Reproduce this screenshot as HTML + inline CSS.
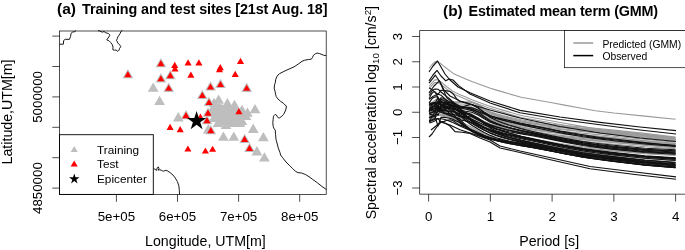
<!DOCTYPE html>
<html><head><meta charset="utf-8"><style>
html,body{margin:0;padding:0;background:#fff;width:685px;height:250px;overflow:hidden}
svg{display:block;will-change:transform}
text{font-family:"Liberation Sans", sans-serif;fill:#000}
</style></head><body>
<svg xmlns="http://www.w3.org/2000/svg" width="685" height="250" viewBox="0 0 685 250">
<rect width="685" height="250" fill="#fff"/>
<g>
<polyline fill="none" stroke="#000" stroke-width="0.9" stroke-linejoin="round"  points="59.5,44.2 63.4,44.2 63.6,40.6 65.2,39.3 69.4,39.4 70.6,36.4 71.0,33.4 72.4,32.2 74.8,31.6 76.0,30.5"/>
<polyline fill="none" stroke="#000" stroke-width="0.9" stroke-linejoin="round"  points="98.0,30.5 99.8,31.0 102.2,32.2 104.0,31.5 105.8,32.8 108.2,33.4 110.0,35.2 108.8,37.0 107.0,39.4 106.8,40.0 108.8,40.6 110.6,42.4 112.4,44.8 113.0,47.2 112.8,49.6 114.2,50.2 116.0,50.0 117.8,51.4 119.0,50.2 119.6,48.4 120.8,46.6 119.6,44.8 117.8,43.0 117.2,41.2 116.4,40.6 117.2,38.8 117.8,37.0 119.0,35.2 120.2,33.4 120.8,31.6 122.4,30.5"/>
<polyline fill="none" stroke="#000" stroke-width="0.9" stroke-linejoin="round"  points="326.2,55.7 323.6,55.2 319.6,53.6 317.2,53.1 315.6,53.6 313.5,55.2 312.4,57.6 311.3,59.2 308.4,59.5 304.4,60.3 302.0,61.3 298.8,63.7 294.0,66.9 286.0,70.4 279.6,73.6 278.0,75.0 276.8,76.8 275.6,79.8 275.4,82.2 274.6,84.6 274.2,88.2 275.0,91.2 275.6,94.2 276.2,96.6 278.0,99.0 280.6,101.4 283.6,103.4 284.8,104.8 286.4,106.0 286.0,109.0 284.8,112.0 283.6,114.4 281.8,116.2 279.4,118.0 278.2,117.8 277.0,116.2 276.4,115.0 275.2,114.4 274.0,115.6 273.4,116.8 273.2,119.2 272.8,122.8 273.2,126.4 274.0,128.8 275.2,129.8 275.6,134.6 276.0,139.4 277.0,143.0 278.2,147.8 280.0,152.6 280.6,155.0 282.4,157.4 286.0,162.0 289.7,165.7 292.5,168.4 295.3,171.2 298.0,172.7 301.7,173.0 305.4,174.5 309.0,176.7 312.8,179.5 317.4,182.8 322.0,186.5 326.2,189.4"/>
<polyline fill="none" stroke="#000" stroke-width="0.9" stroke-linejoin="round"  points="153.6,168.4 155.1,169.4 156.5,170.4 157.2,167.9 158.3,166.9 159.0,168.6 158.0,170.1 159.4,169.8 161.1,170.1 162.3,170.8 163.7,171.2 165.2,170.4 167.3,170.8 170.2,172.7 173.1,175.1 175.3,178.0 177.4,181.6 178.9,185.9 179.3,190.3 179.6,194.4"/>
</g>
<g>
<polygon fill="#bebebe" points="214,108 219,103 223,106 228,106 231,108 235,108 241,111 246,113 249,116 244,120 245,125 221,125 218,120 212,112"/>
<polygon fill="#bebebe" points="153.20,82.40 158.57,91.70 147.83,91.70"/>
<polygon fill="#bebebe" points="159.60,95.80 164.97,105.10 154.23,105.10"/>
<polygon fill="#bebebe" points="178.30,112.10 183.67,121.40 172.93,121.40"/>
<polygon fill="#bebebe" points="255.00,103.90 260.37,113.20 249.63,113.20"/>
<polygon fill="#bebebe" points="247.40,107.50 252.77,116.80 242.03,116.80"/>
<polygon fill="#bebebe" points="223.40,131.40 228.77,140.70 218.03,140.70"/>
<polygon fill="#bebebe" points="233.80,131.40 239.17,140.70 228.43,140.70"/>
<polygon fill="#bebebe" points="253.20,123.60 258.57,132.90 247.83,132.90"/>
<polygon fill="#bebebe" points="263.40,132.00 268.77,141.30 258.03,141.30"/>
<polygon fill="#bebebe" points="256.90,146.10 262.27,155.40 251.53,155.40"/>
<polygon fill="#bebebe" points="264.40,152.20 269.77,161.50 259.03,161.50"/>
<polygon fill="#bebebe" points="218.60,94.40 223.97,103.70 213.23,103.70"/>
<polygon fill="#bebebe" points="227.40,97.90 232.77,107.20 222.03,107.20"/>
<polygon fill="#bebebe" points="234.50,99.70 239.87,109.00 229.13,109.00"/>
<polygon fill="#bebebe" points="215.00,100.80 220.37,110.10 209.63,110.10"/>
<polygon fill="#bebebe" points="222.00,103.80 227.37,113.10 216.63,113.10"/>
<polygon fill="#bebebe" points="229.00,104.80 234.37,114.10 223.63,114.10"/>
<polygon fill="#bebebe" points="236.00,104.80 241.37,114.10 230.63,114.10"/>
<polygon fill="#bebebe" points="242.00,104.80 247.37,114.10 236.63,114.10"/>
<polygon fill="#bebebe" points="219.00,106.80 224.37,116.10 213.63,116.10"/>
<polygon fill="#bebebe" points="226.00,108.80 231.37,118.10 220.63,118.10"/>
<polygon fill="#bebebe" points="233.00,109.80 238.37,119.10 227.63,119.10"/>
<polygon fill="#bebebe" points="240.00,110.80 245.37,120.10 234.63,120.10"/>
<polygon fill="#bebebe" points="246.00,110.80 251.37,120.10 240.63,120.10"/>
<polygon fill="#bebebe" points="214.00,112.80 219.37,122.10 208.63,122.10"/>
<polygon fill="#bebebe" points="221.00,114.80 226.37,124.10 215.63,124.10"/>
<polygon fill="#bebebe" points="228.00,114.80 233.37,124.10 222.63,124.10"/>
<polygon fill="#bebebe" points="235.00,114.80 240.37,124.10 229.63,124.10"/>
<polygon fill="#bebebe" points="242.00,115.80 247.37,125.10 236.63,125.10"/>
<polygon fill="#bebebe" points="218.00,117.80 223.37,127.10 212.63,127.10"/>
<polygon fill="#bebebe" points="226.00,119.80 231.37,129.10 220.63,129.10"/>
<polygon fill="#bebebe" points="233.00,117.80 238.37,127.10 227.63,127.10"/>
<polygon fill="#bebebe" points="240.00,117.80 245.37,127.10 234.63,127.10"/>
<polygon fill="#bebebe" points="212.00,104.80 217.37,114.10 206.63,114.10"/>
<polygon fill="#bebebe" points="214.00,97.80 219.37,107.10 208.63,107.10"/>
<polygon fill="#bebebe" points="214.00,105.80 219.37,115.10 208.63,115.10"/>
<polygon fill="#bebebe" points="208.30,124.10 213.67,133.40 202.93,133.40"/>
<polygon fill="#bebebe" points="218.00,109.80 223.37,119.10 212.63,119.10"/>
<polygon fill="#bebebe" points="127.90,68.90 133.27,78.20 122.53,78.20"/>
<polygon fill="#bebebe" points="160.90,58.00 166.27,67.30 155.53,67.30"/>
<polygon fill="#bebebe" points="160.90,73.10 166.27,82.40 155.53,82.40"/>
<polygon fill="#bebebe" points="170.30,70.00 175.67,79.30 164.93,79.30"/>
<polygon fill="#bebebe" points="168.70,82.60 174.07,91.90 163.33,91.90"/>
<polygon fill="#bebebe" points="220.50,78.80 225.87,88.10 215.13,88.10"/>
<polygon fill="#bebebe" points="210.50,81.30 215.87,90.60 205.13,90.60"/>
<polygon fill="#bebebe" points="246.70,82.60 252.07,91.90 241.33,91.90"/>
<polygon fill="#bebebe" points="202.30,89.80 207.67,99.10 196.93,99.10"/>
<polygon fill="#bebebe" points="186.00,109.90 191.37,119.20 180.63,119.20"/>
<polygon fill="#bebebe" points="244.60,133.70 249.97,143.00 239.23,143.00"/>
<polygon fill="#bebebe" points="249.50,142.70 254.87,152.00 244.13,152.00"/>
<polygon fill="#bebebe" points="209.00,96.80 214.37,106.10 203.63,106.10"/>
<polygon fill="#bebebe" points="208.00,107.40 213.37,116.70 202.63,116.70"/>
<polygon fill="#bebebe" points="207.00,115.00 212.37,124.30 201.63,124.30"/>
<polygon fill="#bebebe" points="210.80,125.00 216.17,134.30 205.43,134.30"/>
<polygon fill="#ff0000" points="127.90,71.00 131.45,77.15 124.35,77.15"/>
<polygon fill="#ff0000" points="160.90,60.10 164.45,66.25 157.35,66.25"/>
<polygon fill="#ff0000" points="160.90,75.20 164.45,81.35 157.35,81.35"/>
<polygon fill="#ff0000" points="170.30,72.10 173.85,78.25 166.75,78.25"/>
<polygon fill="#ff0000" points="168.70,84.70 172.25,90.85 165.15,90.85"/>
<polygon fill="#ff0000" points="220.50,80.90 224.05,87.05 216.95,87.05"/>
<polygon fill="#ff0000" points="210.50,83.40 214.05,89.55 206.95,89.55"/>
<polygon fill="#ff0000" points="246.70,84.70 250.25,90.85 243.15,90.85"/>
<polygon fill="#ff0000" points="202.30,91.90 205.85,98.05 198.75,98.05"/>
<polygon fill="#ff0000" points="186.00,112.00 189.55,118.15 182.45,118.15"/>
<polygon fill="#ff0000" points="244.60,135.80 248.15,141.95 241.05,141.95"/>
<polygon fill="#ff0000" points="249.50,144.80 253.05,150.95 245.95,150.95"/>
<polygon fill="#ff0000" points="209.00,98.90 212.55,105.05 205.45,105.05"/>
<polygon fill="#ff0000" points="208.00,109.50 211.55,115.65 204.45,115.65"/>
<polygon fill="#ff0000" points="207.00,117.10 210.55,123.25 203.45,123.25"/>
<polygon fill="#ff0000" points="210.80,127.10 214.35,133.25 207.25,133.25"/>
<polygon fill="#ff0000" points="188.10,59.30 191.65,65.45 184.55,65.45"/>
<polygon fill="#ff0000" points="198.90,59.30 202.45,65.45 195.35,65.45"/>
<polygon fill="#ff0000" points="190.90,71.60 194.45,77.75 187.35,77.75"/>
<polygon fill="#ff0000" points="174.70,61.80 178.25,67.95 171.15,67.95"/>
<polygon fill="#ff0000" points="175.00,65.30 178.55,71.45 171.45,71.45"/>
<polygon fill="#ff0000" points="220.30,64.00 223.85,70.15 216.75,70.15"/>
<polygon fill="#ff0000" points="219.50,66.20 223.05,72.35 215.95,72.35"/>
<polygon fill="#ff0000" points="240.50,57.80 244.05,63.95 236.95,63.95"/>
<polygon fill="#ff0000" points="235.20,70.80 238.75,76.95 231.65,76.95"/>
<polygon fill="#ff0000" points="170.10,123.80 173.65,129.95 166.55,129.95"/>
<polygon fill="#ff0000" points="180.20,126.00 183.75,132.15 176.65,132.15"/>
<polygon fill="#ff0000" points="187.90,145.40 191.45,151.55 184.35,151.55"/>
<polygon fill="#ff0000" points="205.40,147.40 208.95,153.55 201.85,153.55"/>
<polygon fill="#ff0000" points="212.60,145.70 216.15,151.85 209.05,151.85"/>
<polygon fill="#ff0000" points="200.40,113.50 203.95,119.65 196.85,119.65"/>
<polygon fill="#ff0000" points="238.90,108.00 242.45,114.15 235.35,114.15"/>
</g>
<polygon fill="#000" points="196.60,110.90 198.87,117.88 206.21,117.88 200.27,122.19 202.54,129.17 196.60,124.86 190.66,129.17 192.93,122.19 186.99,117.88 194.33,117.88"/>
<rect x="59.5" y="134.7" width="93.8" height="59.7" fill="#fff" stroke="#000" stroke-width="0.9"/>
<polygon fill="#bebebe" points="74.20,145.90 77.75,152.05 70.65,152.05"/>
<polygon fill="#ff0000" points="74.20,160.40 77.75,166.55 70.65,166.55"/>
<polygon fill="#000" points="74.30,173.50 75.53,177.30 79.53,177.30 76.30,179.65 77.53,183.45 74.30,181.10 71.07,183.45 72.30,179.65 69.07,177.30 73.07,177.30"/>
<text x="97" y="153.8" font-size="11.8">Training</text>
<text x="97" y="168.3" font-size="11.8">Test</text>
<text x="97" y="182.8" font-size="11.8">Epicenter</text>
<rect x="59.6" y="31.0" width="266.6" height="163.5" fill="none" stroke="#000" stroke-width="0.7"/>
<line x1="52.3" y1="36.1" x2="59.6" y2="36.1" stroke="#000" stroke-width="0.7"/>
<line x1="52.3" y1="66.5" x2="59.6" y2="66.5" stroke="#000" stroke-width="0.7"/>
<line x1="52.3" y1="96.9" x2="59.6" y2="96.9" stroke="#000" stroke-width="0.7"/>
<line x1="52.3" y1="127.3" x2="59.6" y2="127.3" stroke="#000" stroke-width="0.7"/>
<line x1="52.3" y1="157.7" x2="59.6" y2="157.7" stroke="#000" stroke-width="0.7"/>
<line x1="52.3" y1="188.1" x2="59.6" y2="188.1" stroke="#000" stroke-width="0.7"/>
<line x1="116.4" y1="194.5" x2="116.4" y2="201.8" stroke="#000" stroke-width="0.7"/>
<line x1="177.5" y1="194.5" x2="177.5" y2="201.8" stroke="#000" stroke-width="0.7"/>
<line x1="238.6" y1="194.5" x2="238.6" y2="201.8" stroke="#000" stroke-width="0.7"/>
<line x1="299.7" y1="194.5" x2="299.7" y2="201.8" stroke="#000" stroke-width="0.7"/>
<text x="116.4" y="220.6" font-size="13.3" text-anchor="middle">5e+05</text>
<text x="177.5" y="220.6" font-size="13.3" text-anchor="middle">6e+05</text>
<text x="238.6" y="220.6" font-size="13.3" text-anchor="middle">7e+05</text>
<text x="299.7" y="220.6" font-size="13.3" text-anchor="middle">8e+05</text>
<text transform="translate(41.6,96.9) rotate(-90)" font-size="13.3" text-anchor="middle">5000000</text>
<text transform="translate(41.6,188.1) rotate(-90)" font-size="13.3" text-anchor="middle">4850000</text>
<text x="205.42" y="245.5" font-size="14.2" text-anchor="middle">Longitude, UTM[m]</text>
<text transform="translate(12.2,112) rotate(-90)" font-size="14.2" text-anchor="middle">Latitude,UTM[m]</text>
<text x="57.0" y="14.0" font-size="15.5" font-weight="bold">(a)</text>
<text x="82.1" y="14.0" font-size="14.35" font-weight="bold" textLength="245.4" lengthAdjust="spacing">Training and test sites [21st Aug. 18]</text>
<g fill="none" stroke-linejoin="round">
<polyline fill="none" stroke="#9a9a9a" stroke-width="1.1" stroke-linejoin="round"  points="429.2,68.1 429.8,67.3 430.5,66.5 431.7,65.0 432.9,63.7 434.8,61.8 436.0,61.8 437.9,61.8 439.1,62.6 441.0,63.8 444.0,66.3 447.1,68.8 450.2,71.1 453.3,73.4 456.4,74.9 459.5,76.3 465.7,78.9 471.8,81.5 478.0,83.7 484.2,86.0 490.4,88.2 496.5,90.1 502.7,91.9 508.9,93.8 521.2,97.3 533.6,99.5 552.1,102.8 564.5,105.1 583.0,108.5 595.3,110.7 613.9,113.0 644.7,116.1 675.6,119.3"/>
<polyline fill="none" stroke="#9a9a9a" stroke-width="1.1" stroke-linejoin="round"  points="429.2,86.2 429.8,85.5 430.5,84.7 431.7,83.2 432.9,81.9 434.8,79.9 436.0,79.9 437.9,79.9 439.1,80.7 441.0,81.9 444.0,84.5 447.1,87.0 450.2,89.3 453.3,91.6 456.4,93.1 459.5,94.4 465.7,97.1 471.8,99.7 478.0,101.9 484.2,104.2 490.4,106.4 496.5,108.2 502.7,110.1 508.9,111.9 521.2,115.5 533.6,117.7 552.1,121.0 564.5,123.3 583.0,126.6 595.3,128.9 613.9,131.1 644.7,134.3 675.6,137.5"/>
<polyline fill="none" stroke="#9a9a9a" stroke-width="1.1" stroke-linejoin="round"  points="429.2,88.6 429.8,87.9 430.5,87.2 431.7,85.7 432.9,84.4 434.8,82.5 436.0,82.5 437.9,82.5 439.1,83.3 441.0,84.5 444.0,86.9 447.1,89.4 450.2,91.6 453.3,93.8 456.4,95.3 459.5,96.6 465.7,99.2 471.8,101.7 478.0,103.9 484.2,106.2 490.4,108.4 496.5,110.3 502.7,112.1 508.9,114.0 521.2,117.5 533.6,119.7 552.1,123.0 564.5,125.3 583.0,128.7 595.3,130.9 613.9,133.2 644.7,136.3 675.6,139.5"/>
<polyline fill="none" stroke="#9a9a9a" stroke-width="1.1" stroke-linejoin="round"  points="429.2,105.8 429.8,105.2 430.5,104.5 431.7,103.4 432.9,102.3 434.8,100.8 436.0,99.7 437.9,98.7 439.1,98.9 441.0,99.3 444.0,100.2 447.1,101.2 450.2,101.9 453.3,102.1 456.4,102.3 459.5,102.4 465.7,102.2 471.8,102.3 478.0,104.5 484.2,108.2 490.4,111.7 496.5,113.8 502.7,115.6 508.9,117.1 521.2,119.8 533.6,122.0 552.1,124.3 564.5,125.5 583.0,127.0 595.3,128.2 613.9,130.1 644.7,133.4 675.6,137.0"/>
<polyline fill="none" stroke="#9a9a9a" stroke-width="1.1" stroke-linejoin="round"  points="429.2,105.8 429.8,105.2 430.5,104.5 431.7,103.4 432.9,102.3 434.8,100.8 436.0,99.7 437.9,98.7 439.1,98.9 441.0,99.3 444.0,100.2 447.1,101.2 450.2,101.9 453.3,102.1 456.4,102.3 459.5,102.4 465.7,102.2 471.8,102.3 478.0,104.6 484.2,108.5 490.4,112.2 496.5,114.5 502.7,116.3 508.9,117.9 521.2,120.8 533.6,123.1 552.1,125.5 564.5,126.6 583.0,128.2 595.3,129.4 613.9,131.3 644.7,134.6 675.6,138.0"/>
<polyline fill="none" stroke="#9a9a9a" stroke-width="1.1" stroke-linejoin="round"  points="429.2,107.0 429.8,106.4 430.5,105.8 431.7,104.7 432.9,103.6 434.8,102.1 436.0,101.0 437.9,100.0 439.1,100.1 441.0,100.5 444.0,101.4 447.1,102.4 450.2,103.1 453.3,103.5 456.4,103.7 459.5,103.9 465.7,104.1 471.8,104.4 478.0,106.6 484.2,110.2 490.4,113.6 496.5,115.7 502.7,117.4 508.9,118.9 521.2,121.6 533.6,123.7 552.1,126.1 564.5,127.3 583.0,128.9 595.3,130.1 613.9,132.0 644.7,135.2 675.6,138.6"/>
<polyline fill="none" stroke="#9a9a9a" stroke-width="1.1" stroke-linejoin="round"  points="429.2,105.8 429.8,105.2 430.5,104.5 431.7,103.4 432.9,102.3 434.8,100.8 436.0,99.7 437.9,98.7 439.1,98.9 441.0,99.3 444.0,100.2 447.1,101.2 450.2,101.9 453.3,102.1 456.4,102.3 459.5,102.4 465.7,102.2 471.8,102.3 478.0,104.8 484.2,108.9 490.4,112.8 496.5,115.2 502.7,117.1 508.9,118.9 521.2,121.9 533.6,124.3 552.1,126.8 564.5,128.0 583.0,129.6 595.3,130.7 613.9,132.6 644.7,135.8 675.6,139.1"/>
<polyline fill="none" stroke="#9a9a9a" stroke-width="1.1" stroke-linejoin="round"  points="429.2,108.8 429.8,108.2 430.5,107.6 431.7,106.5 432.9,105.4 434.8,103.9 436.0,102.8 437.9,101.7 439.1,101.9 441.0,102.3 444.0,103.1 447.1,104.0 450.2,104.8 453.3,105.3 456.4,105.8 459.5,106.1 465.7,106.6 471.8,107.4 478.0,109.7 484.2,113.0 490.4,116.0 496.5,118.0 502.7,119.6 508.9,121.0 521.2,123.5 533.6,125.6 552.1,127.9 564.5,129.2 583.0,130.8 595.3,132.0 613.9,133.9 644.7,137.0 675.6,140.2"/>
<polyline fill="none" stroke="#9a9a9a" stroke-width="1.1" stroke-linejoin="round"  points="429.2,105.8 429.8,105.2 430.5,104.5 431.7,103.4 432.9,102.3 434.8,100.8 436.0,99.7 437.9,98.7 439.1,98.9 441.0,99.3 444.0,100.2 447.1,101.2 450.2,101.9 453.3,102.1 456.4,102.3 459.5,102.4 465.7,102.2 471.8,102.3 478.0,105.0 484.2,109.4 490.4,113.7 496.5,116.2 502.7,118.3 508.9,120.2 521.2,123.5 533.6,126.1 552.1,128.7 564.5,130.0 583.0,131.6 595.3,132.7 613.9,134.6 644.7,137.7 675.6,140.8"/>
<polyline fill="none" stroke="#9a9a9a" stroke-width="1.1" stroke-linejoin="round"  points="429.2,109.8 429.8,109.2 430.5,108.6 431.7,107.5 432.9,106.4 434.8,104.9 436.0,103.8 437.9,102.7 439.1,102.8 441.0,103.2 444.0,104.0 447.1,104.9 450.2,105.7 453.3,106.3 456.4,106.9 459.5,107.3 465.7,108.0 471.8,109.0 478.0,111.5 484.2,114.8 490.4,117.9 496.5,119.9 502.7,121.5 508.9,123.0 521.2,125.6 533.6,127.7 552.1,130.2 564.5,131.5 583.0,133.2 595.3,134.4 613.9,136.2 644.7,139.2 675.6,142.1"/>
<polyline fill="none" stroke="#9a9a9a" stroke-width="1.1" stroke-linejoin="round"  points="429.2,108.6 429.8,108.0 430.5,107.4 431.7,106.2 432.9,105.2 434.8,103.7 436.0,102.6 437.9,101.5 439.1,101.6 441.0,102.0 444.0,102.9 447.1,103.8 450.2,104.6 453.3,105.1 456.4,105.5 459.5,105.9 465.7,106.3 471.8,107.0 478.0,109.8 484.2,113.8 490.4,117.6 496.5,120.0 502.7,122.0 508.9,123.7 521.2,126.8 533.6,129.3 552.1,131.9 564.5,133.2 583.0,135.0 595.3,136.1 613.9,137.9 644.7,140.8 675.6,143.6"/>
<polyline fill="none" stroke="#9a9a9a" stroke-width="1.1" stroke-linejoin="round"  points="429.2,110.5 429.8,109.9 430.5,109.4 431.7,108.2 432.9,107.2 434.8,105.7 436.0,104.6 437.9,103.5 439.1,103.6 441.0,104.0 444.0,104.7 447.1,105.6 450.2,106.5 453.3,107.1 456.4,107.8 459.5,108.3 465.7,109.1 471.8,110.3 478.0,112.9 484.2,116.2 490.4,119.3 496.5,121.3 502.7,123.0 508.9,124.6 521.2,127.2 533.6,129.3 552.1,131.8 564.5,133.2 583.0,134.9 595.3,136.1 613.9,137.9 644.7,140.8 675.6,143.5"/>
<polyline fill="none" stroke="#9a9a9a" stroke-width="1.1" stroke-linejoin="round"  points="429.2,110.7 429.8,110.1 430.5,109.5 431.7,108.4 432.9,107.4 434.8,105.8 436.0,104.7 437.9,103.6 439.1,103.8 441.0,104.1 444.0,104.9 447.1,105.8 450.2,106.6 453.3,107.3 456.4,107.9 459.5,108.5 465.7,109.4 471.8,110.6 478.0,113.2 484.2,116.7 490.4,119.9 496.5,122.0 502.7,123.7 508.9,125.3 521.2,128.0 533.6,130.2 552.1,132.7 564.5,134.1 583.0,135.9 595.3,137.1 613.9,138.8 644.7,141.7 675.6,144.3"/>
<polyline fill="none" stroke="#9a9a9a" stroke-width="1.1" stroke-linejoin="round"  points="429.2,109.4 429.8,108.8 430.5,108.2 431.7,107.1 432.9,106.0 434.8,104.5 436.0,103.4 437.9,102.4 439.1,102.5 441.0,102.9 444.0,103.7 447.1,104.6 450.2,105.4 453.3,106.0 456.4,106.5 459.5,106.9 465.7,107.5 471.8,108.4 478.0,111.4 484.2,115.5 490.4,119.4 496.5,121.9 502.7,124.0 508.9,125.9 521.2,129.1 533.6,131.6 552.1,134.4 564.5,135.8 583.0,137.6 595.3,138.7 613.9,140.5 644.7,143.2 675.6,145.7"/>
<polyline fill="none" stroke="#9a9a9a" stroke-width="1.1" stroke-linejoin="round"  points="429.2,114.1 429.8,113.5 430.5,113.0 431.7,111.9 432.9,110.9 434.8,109.4 436.0,108.2 437.9,107.0 439.1,107.2 441.0,107.5 444.0,108.2 447.1,109.0 450.2,109.9 453.3,110.9 456.4,111.8 459.5,112.8 465.7,114.4 471.8,116.2 478.0,118.7 484.2,121.5 490.4,124.0 496.5,125.7 502.7,127.2 508.9,128.5 521.2,130.8 533.6,132.7 552.1,135.2 564.5,136.6 583.0,138.5 595.3,139.7 613.9,141.4 644.7,144.1 675.6,146.5"/>
<polyline fill="none" stroke="#9a9a9a" stroke-width="1.1" stroke-linejoin="round"  points="429.2,115.1 429.8,114.6 430.5,114.0 431.7,112.9 432.9,111.9 434.8,110.4 436.0,109.2 437.9,108.1 439.1,108.2 441.0,108.5 444.0,109.2 447.1,110.0 450.2,110.9 453.3,111.9 456.4,113.0 459.5,114.0 465.7,115.9 471.8,117.9 478.0,120.3 484.2,123.0 490.4,125.3 496.5,126.9 502.7,128.3 508.9,129.5 521.2,131.7 533.6,133.5 552.1,136.0 564.5,137.4 583.0,139.4 595.3,140.6 613.9,142.3 644.7,144.9 675.6,147.2"/>
<polyline fill="none" stroke="#9a9a9a" stroke-width="1.1" stroke-linejoin="round"  points="429.2,113.7 429.8,113.1 430.5,112.6 431.7,111.5 432.9,110.4 434.8,108.9 436.0,107.8 437.9,106.6 439.1,106.7 441.0,107.1 444.0,107.8 447.1,108.6 450.2,109.5 453.3,110.4 456.4,111.4 459.5,112.2 465.7,113.8 471.8,115.6 478.0,118.3 484.2,121.4 490.4,124.2 496.5,126.1 502.7,127.8 508.9,129.2 521.2,131.8 533.6,133.9 552.1,136.5 564.5,137.9 583.0,139.8 595.3,141.0 613.9,142.7 644.7,145.3 675.6,147.6"/>
<polyline fill="none" stroke="#9a9a9a" stroke-width="1.1" stroke-linejoin="round"  points="429.2,113.8 429.8,113.2 430.5,112.6 431.7,111.5 432.9,110.5 434.8,109.0 436.0,107.8 437.9,106.7 439.1,106.8 441.0,107.2 444.0,107.8 447.1,108.7 450.2,109.6 453.3,110.5 456.4,111.4 459.5,112.3 465.7,113.8 471.8,115.7 478.0,118.6 484.2,121.9 490.4,124.9 496.5,127.0 502.7,128.7 508.9,130.3 521.2,133.0 533.6,135.2 552.1,137.9 564.5,139.4 583.0,141.4 595.3,142.5 613.9,144.2 644.7,146.8 675.6,148.8"/>
<polyline fill="none" stroke="#9a9a9a" stroke-width="1.1" stroke-linejoin="round"  points="429.2,118.3 429.8,117.8 430.5,117.2 431.7,116.2 432.9,115.1 434.8,113.6 436.0,112.4 437.9,111.2 439.1,111.3 441.0,111.6 444.0,112.2 447.1,113.0 450.2,114.0 453.3,115.2 456.4,116.6 459.5,118.0 465.7,120.5 471.8,123.2 478.0,126.4 484.2,129.7 490.4,132.6 496.5,134.7 502.7,136.4 508.9,138.0 521.2,140.7 533.6,143.1 552.1,146.4 564.5,148.4 583.0,151.0 595.3,152.5 613.9,154.5 644.7,157.5 675.6,159.6"/>
<polyline fill="none" stroke="#9a9a9a" stroke-width="1.1" stroke-linejoin="round"  points="429.2,120.8 429.8,120.2 430.5,119.7 431.7,118.7 432.9,117.7 434.8,116.2 436.0,114.9 437.9,113.7 439.1,113.8 441.0,114.1 444.0,114.6 447.1,115.4 450.2,116.4 453.3,117.7 456.4,119.4 459.5,121.1 465.7,124.2 471.8,127.3 478.0,130.5 484.2,133.6 490.4,136.3 496.5,138.3 502.7,140.0 508.9,141.5 521.2,144.1 533.6,146.4 552.1,149.8 564.5,151.9 583.0,154.7 595.3,156.4 613.9,158.8 644.7,162.3 675.6,165.2"/>
<polyline fill="none" stroke="#9a9a9a" stroke-width="1.1" stroke-linejoin="round"  points="429.2,122.3 429.8,121.8 430.5,121.3 431.7,120.2 432.9,119.2 434.8,117.7 436.0,116.5 437.9,115.2 439.1,115.3 441.0,115.5 444.0,116.1 447.1,116.9 450.2,117.8 453.3,119.3 456.4,121.1 459.5,123.0 465.7,126.5 471.8,129.6 478.0,132.3 484.2,134.8 490.4,136.9 496.5,138.5 502.7,139.9 508.9,141.1 521.2,143.1 533.6,145.0 552.1,148.1 564.5,150.1 583.0,153.0 595.3,154.6 613.9,156.8 644.7,160.1 675.6,162.7"/>
<polyline fill="none" stroke="#9a9a9a" stroke-width="1.1" stroke-linejoin="round"  points="429.2,118.5 429.8,117.9 430.5,117.4 431.7,116.4 432.9,115.3 434.8,113.8 436.0,112.6 437.9,111.4 439.1,111.5 441.0,111.8 444.0,112.4 447.1,113.2 450.2,114.2 453.3,115.4 456.4,116.8 459.5,118.2 465.7,120.8 471.8,123.5 478.0,126.7 484.2,130.1 490.4,133.0 496.5,135.1 502.7,136.9 508.9,138.5 521.2,141.2 533.6,143.6 552.1,146.9 564.5,148.9 583.0,151.6 595.3,153.1 613.9,155.2 644.7,158.2 675.6,160.5"/>
<polyline fill="none" stroke="#9a9a9a" stroke-width="1.1" stroke-linejoin="round"  points="429.2,121.7 429.8,121.2 430.5,120.7 431.7,119.7 432.9,118.7 434.8,117.2 436.0,115.9 437.9,114.7 439.1,114.7 441.0,115.0 444.0,115.6 447.1,116.3 450.2,117.3 453.3,118.7 456.4,120.5 459.5,122.3 465.7,125.6 471.8,128.8 478.0,131.8 484.2,134.7 490.4,137.1 496.5,139.0 502.7,140.5 508.9,141.9 521.2,144.3 533.6,146.4 552.1,149.7 564.5,151.8 583.0,154.6 595.3,156.3 613.9,158.7 644.7,162.3 675.6,165.1"/>
<polyline fill="none" stroke="#9a9a9a" stroke-width="1.1" stroke-linejoin="round"  points="429.2,115.9 429.8,115.4 430.5,114.8 431.7,113.8 432.9,112.7 434.8,111.2 436.0,110.0 437.9,108.9 439.1,109.0 441.0,109.3 444.0,109.9 447.1,110.8 450.2,111.7 453.3,112.7 456.4,113.9 459.5,115.0 465.7,117.0 471.8,119.3 478.0,122.5 484.2,126.1 490.4,129.3 496.5,131.6 502.7,133.5 508.9,135.2 521.2,138.1 533.6,140.5 552.1,143.8 564.5,145.7 583.0,148.2 595.3,149.5 613.9,151.3 644.7,153.8 675.6,155.4"/>
<polyline fill="none" stroke="#9a9a9a" stroke-width="1.1" stroke-linejoin="round"  points="429.2,115.8 429.8,115.2 430.5,114.7 431.7,113.6 432.9,112.6 434.8,111.1 436.0,109.9 437.9,108.7 439.1,108.8 441.0,109.2 444.0,109.8 447.1,110.7 450.2,111.6 453.3,112.6 456.4,113.8 459.5,114.9 465.7,116.8 471.8,119.1 478.0,122.3 484.2,125.9 490.4,129.0 496.5,131.3 502.7,133.1 508.9,134.8 521.2,137.7 533.6,140.1 552.1,143.3 564.5,145.3 583.0,147.7 595.3,149.0 613.9,150.7 644.7,153.2 675.6,154.7"/>
<polyline fill="none" stroke="#9a9a9a" stroke-width="1.1" stroke-linejoin="round"  points="429.2,117.1 429.8,116.5 430.5,116.0 431.7,114.9 432.9,113.9 434.8,112.4 436.0,111.2 437.9,110.0 439.1,110.1 441.0,110.4 444.0,111.0 447.1,111.9 450.2,112.8 453.3,113.9 456.4,115.2 459.5,116.4 465.7,118.7 471.8,121.2 478.0,124.6 484.2,128.4 490.4,131.7 496.5,134.1 502.7,136.0 508.9,137.8 521.2,140.9 533.6,143.5 552.1,146.9 564.5,148.9 583.0,151.5 595.3,153.0 613.9,155.1 644.7,158.1 675.6,160.4"/>
<polyline fill="none" stroke="#9a9a9a" stroke-width="1.1" stroke-linejoin="round"  points="429.2,117.8 429.8,117.2 430.5,116.7 431.7,115.6 432.9,114.6 434.8,113.1 436.0,111.9 437.9,110.7 439.1,110.8 441.0,111.1 444.0,111.7 447.1,112.5 450.2,113.5 453.3,114.6 456.4,116.0 459.5,117.3 465.7,119.8 471.8,122.3 478.0,125.1 484.2,127.9 490.4,130.3 496.5,132.1 502.7,133.6 508.9,135.0 521.2,137.3 533.6,139.4 552.1,142.3 564.5,144.2 583.0,146.7 595.3,148.0 613.9,149.6 644.7,151.9 675.6,153.2"/>
<polyline fill="none" stroke="#111" stroke-width="1.15" stroke-linejoin="round"  points="429.0,72.0 433.0,66.0 437.5,61.0 441.0,67.0 445.0,74.0 450.0,80.0 458.0,87.0 470.0,92.8 490.0,101.0 520.0,110.4 560.0,117.0 600.0,122.4 640.0,127.0 676.0,130.6"/>
<polyline fill="none" stroke="#111" stroke-width="1.15" stroke-linejoin="round"  points="429.0,80.8 433.0,75.0 437.0,70.4 441.0,76.0 445.8,80.8 449.0,79.0 453.0,80.0 458.6,85.6 470.0,94.0 490.0,103.0 520.0,112.8 560.0,119.5 600.0,124.8 640.0,130.0 676.0,134.0"/>
<polyline fill="none" stroke="#111" stroke-width="1.15" stroke-linejoin="round"  points="429.0,83.2 435.4,75.2 440.0,82.0 444.0,90.0 450.0,96.0 460.0,101.0 470.0,104.0 490.0,110.0 520.0,118.0 560.0,126.5 600.0,133.0 640.0,138.0 676.0,141.5"/>
<polyline fill="none" stroke="#111" stroke-width="1.15" stroke-linejoin="round"  points="429.0,92.8 434.0,86.0 439.4,80.8 443.0,89.0 446.6,97.6 452.0,102.0 460.0,106.0 470.0,109.0 490.0,116.0 520.0,123.0 560.0,131.0 600.0,137.5 640.0,142.0 676.0,146.0"/>
<polyline fill="none" stroke="#111" stroke-width="1.15" stroke-linejoin="round"  points="429.0,137.0 432.0,134.0 436.0,128.0 441.0,122.0 445.0,123.0 450.0,126.0 455.0,131.6 462.0,132.2 470.0,133.4 480.0,138.0 490.0,142.0 500.0,148.0 520.0,152.5 545.0,158.5 590.0,168.7 635.0,174.5 676.0,179.2"/>
<polyline fill="none" stroke="#111" stroke-width="1.15" stroke-linejoin="round"  points="431.0,130.0 436.0,126.0 441.0,122.0 450.0,125.0 460.0,129.8 475.0,134.6 490.0,140.0 500.0,146.0 520.0,151.0 545.0,156.5 590.0,166.5 635.0,172.0 676.0,176.9"/>
<polyline fill="none" stroke="#111" stroke-width="1.15" stroke-linejoin="round"  points="429.2,113.6 429.8,113.5 430.5,113.3 431.7,112.8 432.9,112.2 434.8,111.0 436.0,109.5 437.9,107.6 439.1,107.8 441.0,108.3 444.0,107.5 447.1,106.0 450.2,105.3 453.3,105.6 456.4,106.3 459.5,106.8 465.7,107.2 471.8,107.8 478.0,110.1 484.2,113.5 490.4,116.7 496.5,118.8 502.7,120.3 508.9,121.7 521.2,124.1 533.6,126.3 552.1,129.9 564.5,132.4 583.0,135.8 595.3,137.6 613.9,139.8 644.7,143.1 675.6,145.2"/>
<polyline fill="none" stroke="#111" stroke-width="1.15" stroke-linejoin="round"  points="429.2,87.8 429.8,88.3 430.5,88.7 431.7,89.6 432.9,90.5 434.8,91.9 436.0,93.0 437.9,94.2 439.1,92.8 441.0,90.4 444.0,90.5 447.1,90.9 450.2,91.5 453.3,94.0 456.4,98.3 459.5,101.3 465.7,102.9 471.8,104.7 478.0,108.0 484.2,112.0 490.4,115.5 496.5,117.9 502.7,119.9 508.9,121.7 521.2,124.8 533.6,127.4 552.1,131.2 564.5,133.6 583.0,136.7 595.3,138.4 613.9,140.7 644.7,144.0 675.6,146.4"/>
<polyline fill="none" stroke="#111" stroke-width="1.15" stroke-linejoin="round"  points="429.2,122.8 429.8,122.7 430.5,122.6 431.7,122.2 432.9,121.8 434.8,121.0 436.0,119.9 437.9,118.6 439.1,119.8 441.0,122.0 444.0,121.4 447.1,120.3 450.2,119.7 453.3,120.7 456.4,123.0 459.5,124.9 465.7,127.3 471.8,129.7 478.0,132.6 484.2,135.6 490.4,138.2 496.5,140.1 502.7,141.6 508.9,143.0 521.2,145.4 533.6,147.6 552.1,151.1 564.5,153.6 583.0,156.9 595.3,158.8 613.9,161.3 644.7,164.9 675.6,167.4"/>
<polyline fill="none" stroke="#111" stroke-width="1.15" stroke-linejoin="round"  points="429.2,113.5 429.8,114.0 430.5,114.4 431.7,114.9 432.9,115.1 434.8,115.2 436.0,113.8 437.9,111.2 439.1,111.5 441.0,112.5 444.0,113.4 447.1,114.2 450.2,115.2 453.3,116.6 456.4,118.3 459.5,119.7 465.7,121.0 471.8,122.7 478.0,125.9 484.2,129.8 490.4,133.3 496.5,135.7 502.7,137.7 508.9,139.4 521.2,142.4 533.6,145.0 552.1,148.9 564.5,151.3 583.0,154.6 595.3,156.4 613.9,158.8 644.7,162.2 675.6,164.7"/>
<polyline fill="none" stroke="#111" stroke-width="1.15" stroke-linejoin="round"  points="429.2,95.6 429.8,94.3 430.5,93.2 431.7,91.3 432.9,89.9 434.8,89.0 436.0,89.1 437.9,89.3 439.1,90.1 441.0,92.0 444.0,94.5 447.1,96.9 450.2,99.3 453.3,102.2 456.4,105.2 459.5,106.9 465.7,107.7 471.8,108.7 478.0,111.9 484.2,116.5 490.4,120.7 496.5,123.4 502.7,125.6 508.9,127.6 521.2,131.0 533.6,133.9 552.1,137.9 564.5,140.4 583.0,143.7 595.3,145.3 613.9,147.4 644.7,150.4 675.6,152.0"/>
<polyline fill="none" stroke="#111" stroke-width="1.15" stroke-linejoin="round"  points="429.2,99.2 429.8,98.7 430.5,98.3 431.7,97.4 432.9,96.6 434.8,95.6 436.0,94.9 437.9,94.3 439.1,94.5 441.0,95.2 444.0,97.9 447.1,101.9 450.2,104.9 453.3,106.2 456.4,107.1 459.5,108.4 465.7,115.5 471.8,121.6 478.0,125.1 484.2,127.9 490.4,130.1 496.5,132.0 502.7,133.6 508.9,135.0 521.2,137.5 533.6,139.8 552.1,143.4 564.5,145.9 583.0,149.3 595.3,151.1 613.9,153.3 644.7,156.5 675.6,158.6"/>
<polyline fill="none" stroke="#111" stroke-width="1.15" stroke-linejoin="round"  points="429.2,102.9 429.8,101.8 430.5,100.9 431.7,99.2 432.9,97.9 434.8,97.0 436.0,96.9 437.9,96.9 439.1,100.7 441.0,109.0 444.0,112.4 447.1,114.4 450.2,115.8 453.3,116.8 456.4,117.6 459.5,118.6 465.7,125.4 471.8,131.2 478.0,134.4 484.2,137.0 490.4,139.0 496.5,140.7 502.7,142.2 508.9,143.5 521.2,145.7 533.6,147.8 552.1,151.3 564.5,153.7 583.0,157.1 595.3,159.0 613.9,161.5 644.7,165.1 675.6,167.7"/>
<polyline fill="none" stroke="#111" stroke-width="1.15" stroke-linejoin="round"  points="429.2,121.0 429.8,120.9 430.5,120.9 431.7,120.6 432.9,120.2 434.8,119.4 436.0,115.4 437.9,108.3 439.1,107.9 441.0,107.6 444.0,107.7 447.1,108.1 450.2,108.6 453.3,109.2 456.4,109.9 459.5,110.8 465.7,113.2 471.8,116.0 478.0,119.0 484.2,122.2 490.4,124.9 496.5,126.9 502.7,128.5 508.9,130.0 521.2,132.5 533.6,134.8 552.1,138.5 564.5,141.0 583.0,144.3 595.3,146.1 613.9,148.2 644.7,151.2 675.6,152.9"/>
<polyline fill="none" stroke="#111" stroke-width="1.15" stroke-linejoin="round"  points="429.2,112.3 429.8,112.3 430.5,112.3 431.7,112.1 432.9,111.8 434.8,111.2 436.0,107.5 437.9,101.3 439.1,101.7 441.0,102.3 444.0,102.3 447.1,102.3 450.2,102.3 453.3,103.5 456.4,105.8 459.5,107.6 465.7,109.0 471.8,110.6 478.0,113.8 484.2,117.8 490.4,121.4 496.5,123.8 502.7,125.8 508.9,127.5 521.2,130.6 533.6,133.2 552.1,137.1 564.5,139.7 583.0,142.9 595.3,144.6 613.9,146.7 644.7,149.6 675.6,151.2"/>
<polyline fill="none" stroke="#111" stroke-width="1.15" stroke-linejoin="round"  points="429.2,117.4 429.8,117.4 430.5,117.3 431.7,117.2 432.9,117.0 434.8,116.5 436.0,114.3 437.9,110.4 439.1,110.0 441.0,109.8 444.0,108.9 447.1,107.9 450.2,107.5 453.3,109.9 456.4,114.3 459.5,116.7 465.7,116.6 471.8,116.7 478.0,119.4 484.2,123.8 490.4,128.1 496.5,130.7 502.7,132.7 508.9,134.5 521.2,137.6 533.6,140.4 552.1,144.3 564.5,146.8 583.0,150.0 595.3,151.8 613.9,154.1 644.7,157.3 675.6,159.4"/>
<polyline fill="none" stroke="#111" stroke-width="1.15" stroke-linejoin="round"  points="429.2,110.7 429.8,110.3 430.5,109.9 431.7,108.7 432.9,107.2 434.8,104.7 436.0,101.7 437.9,98.1 439.1,99.0 441.0,101.3 444.0,102.8 447.1,103.7 450.2,104.9 453.3,106.9 456.4,109.2 459.5,110.9 465.7,112.5 471.8,114.4 478.0,118.0 484.2,122.3 490.4,126.3 496.5,128.9 502.7,131.1 508.9,133.1 521.2,136.4 533.6,139.4 552.1,143.4 564.5,145.9 583.0,149.1 595.3,150.8 613.9,153.1 644.7,156.3 675.6,158.3"/>
<polyline fill="none" stroke="#111" stroke-width="1.15" stroke-linejoin="round"  points="429.2,108.7 429.8,108.8 430.5,108.9 431.7,109.2 432.9,109.7 434.8,110.6 436.0,112.6 437.9,115.5 439.1,112.6 441.0,106.6 444.0,104.4 447.1,103.0 450.2,102.6 453.3,103.6 456.4,105.9 459.5,108.2 465.7,112.6 471.8,116.6 478.0,119.9 484.2,122.9 490.4,125.4 496.5,127.3 502.7,129.0 508.9,130.5 521.2,133.0 533.6,135.3 552.1,139.0 564.5,141.5 583.0,144.8 595.3,146.6 613.9,148.7 644.7,151.7 675.6,153.5"/>
<polyline fill="none" stroke="#111" stroke-width="1.15" stroke-linejoin="round"  points="429.2,105.5 429.8,105.2 430.5,104.9 431.7,104.5 432.9,104.1 434.8,103.6 436.0,103.4 437.9,103.2 439.1,103.5 441.0,104.3 444.0,105.4 447.1,106.6 450.2,108.1 453.3,110.2 456.4,112.8 459.5,115.4 465.7,120.7 471.8,125.2 478.0,129.1 484.2,132.5 490.4,135.4 496.5,137.7 502.7,139.6 508.9,141.3 521.2,144.3 533.6,146.9 552.1,150.8 564.5,153.2 583.0,156.4 595.3,158.3 613.9,160.7 644.7,164.3 675.6,166.9"/>
<polyline fill="none" stroke="#111" stroke-width="1.15" stroke-linejoin="round"  points="429.2,111.8 429.8,109.6 430.5,107.8 431.7,105.0 432.9,103.4 434.8,102.6 436.0,104.7 437.9,108.5 439.1,107.6 441.0,105.7 444.0,104.9 447.1,104.5 450.2,104.3 453.3,105.4 456.4,107.4 459.5,108.5 465.7,105.8 471.8,104.4 478.0,107.5 484.2,112.6 490.4,117.6 496.5,120.5 502.7,122.9 508.9,125.0 521.2,128.6 533.6,131.7 552.1,135.9 564.5,138.4 583.0,141.6 595.3,143.3 613.9,145.3 644.7,148.2 675.6,149.7"/>
<polyline fill="none" stroke="#111" stroke-width="1.15" stroke-linejoin="round"  points="429.2,118.0 429.8,117.4 430.5,116.9 431.7,116.2 432.9,115.9 434.8,115.8 436.0,119.4 437.9,126.0 439.1,122.9 441.0,117.2 444.0,117.4 447.1,117.8 450.2,118.5 453.3,119.4 456.4,120.9 459.5,122.6 465.7,127.2 471.8,131.1 478.0,133.7 484.2,135.9 490.4,137.6 496.5,139.1 502.7,140.3 508.9,141.3 521.2,143.1 533.6,144.9 552.1,148.2 564.5,150.6 583.0,154.1 595.3,156.0 613.9,158.4 644.7,161.9 675.6,164.3"/>
<polyline fill="none" stroke="#111" stroke-width="1.15" stroke-linejoin="round"  points="429.2,111.0 429.8,110.9 430.5,110.7 431.7,110.5 432.9,110.3 434.8,110.2 436.0,110.3 437.9,110.4 439.1,108.6 441.0,105.2 444.0,107.1 447.1,110.9 450.2,114.4 453.3,116.6 456.4,118.5 459.5,120.6 465.7,126.3 471.8,130.7 478.0,133.7 484.2,136.1 490.4,138.1 496.5,139.7 502.7,141.1 508.9,142.3 521.2,144.4 533.6,146.3 552.1,149.8 564.5,152.2 583.0,155.6 595.3,157.5 613.9,159.9 644.7,163.5 675.6,166.0"/>
<polyline fill="none" stroke="#111" stroke-width="1.15" stroke-linejoin="round"  points="429.2,122.0 429.8,121.5 430.5,120.9 431.7,120.0 432.9,119.2 434.8,118.7 436.0,118.7 437.9,118.6 439.1,118.7 441.0,118.8 444.0,119.3 447.1,120.3 450.2,121.4 453.3,122.7 456.4,124.3 459.5,125.8 465.7,128.5 471.8,131.0 478.0,133.6 484.2,136.0 490.4,138.1 496.5,139.7 502.7,141.0 508.9,142.1 521.2,144.0 533.6,145.9 552.1,149.2 564.5,151.7 583.0,155.1 595.3,157.0 613.9,159.4 644.7,162.9 675.6,165.4"/>
<polyline fill="none" stroke="#111" stroke-width="1.15" stroke-linejoin="round"  points="429.2,109.9 429.8,109.7 430.5,109.6 431.7,109.2 432.9,108.9 434.8,108.4 436.0,108.1 437.9,107.5 439.1,104.4 441.0,99.4 444.0,100.6 447.1,103.2 450.2,105.8 453.3,108.0 456.4,110.1 459.5,112.1 465.7,115.9 471.8,119.2 478.0,122.1 484.2,124.9 490.4,127.2 496.5,128.9 502.7,130.4 508.9,131.7 521.2,133.9 533.6,136.0 552.1,139.6 564.5,142.1 583.0,145.5 595.3,147.3 613.9,149.4 644.7,152.5 675.6,154.3"/>
<polyline fill="none" stroke="#111" stroke-width="1.15" stroke-linejoin="round"  points="429.2,103.0 429.8,103.1 430.5,103.2 431.7,103.3 432.9,103.4 434.8,103.4 436.0,103.0 437.9,102.2 439.1,102.4 441.0,103.0 444.0,103.5 447.1,104.0 450.2,104.6 453.3,106.8 456.4,110.0 459.5,112.3 465.7,113.8 471.8,115.4 478.0,118.8 484.2,122.9 490.4,126.6 496.5,129.1 502.7,131.2 508.9,133.0 521.2,136.2 533.6,138.9 552.1,142.9 564.5,145.3 583.0,148.6 595.3,150.3 613.9,152.6 644.7,155.8 675.6,157.8"/>
<polyline fill="none" stroke="#111" stroke-width="1.15" stroke-linejoin="round"  points="429.2,120.8 429.8,120.0 430.5,119.2 431.7,117.4 432.9,115.4 434.8,112.1 436.0,108.8 437.9,105.1 439.1,107.3 441.0,111.7 444.0,112.8 447.1,113.4 450.2,113.9 453.3,114.6 456.4,115.2 459.5,115.9 465.7,117.9 471.8,120.5 478.0,123.7 484.2,127.2 490.4,130.4 496.5,132.6 502.7,134.4 508.9,136.0 521.2,138.8 533.6,141.3 552.1,145.1 564.5,147.6 583.0,150.9 595.3,152.7 613.9,155.0 644.7,158.3 675.6,160.5"/>
<polyline fill="none" stroke="#111" stroke-width="1.15" stroke-linejoin="round"  points="429.2,106.6 429.8,107.1 430.5,107.4 431.7,107.9 432.9,108.2 434.8,108.4 436.0,108.0 437.9,107.3 439.1,108.6 441.0,110.9 444.0,109.7 447.1,107.5 450.2,106.3 453.3,107.2 456.4,109.0 459.5,110.3 465.7,111.2 471.8,112.3 478.0,115.1 484.2,118.8 490.4,122.2 496.5,124.4 502.7,126.2 508.9,127.8 521.2,130.5 533.6,132.9 552.1,136.7 564.5,139.2 583.0,142.6 595.3,144.3 613.9,146.3 644.7,149.2 675.6,150.8"/>
<polyline fill="none" stroke="#111" stroke-width="1.15" stroke-linejoin="round"  points="429.2,110.7 429.8,109.6 430.5,108.7 431.7,107.4 432.9,106.6 434.8,106.2 436.0,107.2 437.9,109.2 439.1,109.5 441.0,109.8 444.0,110.3 447.1,110.9 450.2,111.8 453.3,114.2 456.4,118.2 459.5,121.9 465.7,127.4 471.8,131.5 478.0,134.5 484.2,137.1 490.4,139.1 496.5,140.8 502.7,142.3 508.9,143.5 521.2,145.7 533.6,147.8 552.1,151.2 564.5,153.7 583.0,157.1 595.3,159.0 613.9,161.4 644.7,165.0 675.6,167.6"/>
<polyline fill="none" stroke="#111" stroke-width="1.15" stroke-linejoin="round"  points="429.2,104.8 429.8,104.1 430.5,103.6 431.7,103.0 432.9,102.7 434.8,102.6 436.0,104.6 437.9,108.9 439.1,109.9 441.0,110.7 444.0,110.9 447.1,111.0 450.2,111.1 453.3,111.6 456.4,112.5 459.5,113.6 465.7,116.7 471.8,120.2 478.0,123.9 484.2,127.8 490.4,131.1 496.5,133.5 502.7,135.6 508.9,137.4 521.2,140.6 533.6,143.3 552.1,147.3 564.5,149.7 583.0,153.0 595.3,154.8 613.9,157.1 644.7,160.5 675.6,162.8"/>
<polyline fill="none" stroke="#111" stroke-width="1.15" stroke-linejoin="round"  points="429.2,109.2 429.8,108.8 430.5,108.4 431.7,107.7 432.9,106.8 434.8,105.6 436.0,104.4 437.9,103.2 439.1,103.7 441.0,105.1 444.0,106.2 447.1,107.0 450.2,107.8 453.3,108.7 456.4,109.5 459.5,110.6 465.7,115.3 471.8,120.1 478.0,124.1 484.2,127.7 490.4,130.8 496.5,133.2 502.7,135.2 508.9,137.0 521.2,140.1 533.6,142.9 552.1,146.8 564.5,149.3 583.0,152.5 595.3,154.3 613.9,156.6 644.7,160.0 675.6,162.3"/>
<polyline fill="none" stroke="#111" stroke-width="1.15" stroke-linejoin="round"  points="429.2,102.1 429.8,103.1 430.5,104.0 431.7,105.5 432.9,106.5 434.8,107.1 436.0,106.8 437.9,105.8 439.1,102.6 441.0,97.7 444.0,98.5 447.1,100.3 450.2,102.4 453.3,104.6 456.4,107.3 459.5,110.0 465.7,116.1 471.8,120.9 478.0,124.4 484.2,127.3 490.4,129.7 496.5,131.6 502.7,133.3 508.9,134.7 521.2,137.3 533.6,139.6 552.1,143.3 564.5,145.7 583.0,149.1 595.3,150.9 613.9,153.1 644.7,156.3 675.6,158.4"/>
<polyline fill="none" stroke="#111" stroke-width="1.15" stroke-linejoin="round"  points="429.2,99.2 429.8,97.3 430.5,95.8 431.7,93.6 432.9,92.3 434.8,91.8 436.0,93.3 437.9,97.8 439.1,100.8 441.0,104.5 444.0,107.0 447.1,108.6 450.2,110.1 453.3,111.7 456.4,113.1 459.5,114.8 465.7,119.1 471.8,123.2 478.0,126.9 484.2,130.2 490.4,133.1 496.5,135.2 502.7,137.1 508.9,138.8 521.2,141.6 533.6,144.1 552.1,148.0 564.5,150.4 583.0,153.7 595.3,155.5 613.9,157.9 644.7,161.3 675.6,163.7"/>
</g>
<polyline fill="none" stroke="#000" stroke-width="0.7" points="690,30.5 419.6,30.5 419.6,194.2 690,194.2"/>
<line x1="412.2" y1="188.00" x2="419.6" y2="188.00" stroke="#000" stroke-width="0.7"/>
<line x1="412.2" y1="162.75" x2="419.6" y2="162.75" stroke="#000" stroke-width="0.7"/>
<line x1="412.2" y1="137.50" x2="419.6" y2="137.50" stroke="#000" stroke-width="0.7"/>
<line x1="412.2" y1="112.25" x2="419.6" y2="112.25" stroke="#000" stroke-width="0.7"/>
<line x1="412.2" y1="87.00" x2="419.6" y2="87.00" stroke="#000" stroke-width="0.7"/>
<line x1="412.2" y1="61.75" x2="419.6" y2="61.75" stroke="#000" stroke-width="0.7"/>
<line x1="412.2" y1="36.50" x2="419.6" y2="36.50" stroke="#000" stroke-width="0.7"/>
<line x1="428.60" y1="194.2" x2="428.60" y2="201.6" stroke="#000" stroke-width="0.7"/>
<text x="428.60" y="220.8" font-size="13.3" text-anchor="middle">0</text>
<line x1="490.35" y1="194.2" x2="490.35" y2="201.6" stroke="#000" stroke-width="0.7"/>
<text x="490.35" y="220.8" font-size="13.3" text-anchor="middle">1</text>
<line x1="552.10" y1="194.2" x2="552.10" y2="201.6" stroke="#000" stroke-width="0.7"/>
<text x="552.10" y="220.8" font-size="13.3" text-anchor="middle">2</text>
<line x1="613.85" y1="194.2" x2="613.85" y2="201.6" stroke="#000" stroke-width="0.7"/>
<text x="613.85" y="220.8" font-size="13.3" text-anchor="middle">3</text>
<line x1="675.60" y1="194.2" x2="675.60" y2="201.6" stroke="#000" stroke-width="0.7"/>
<text x="675.60" y="220.8" font-size="13.3" text-anchor="middle">4</text>
<text transform="translate(401.6,36.50) rotate(-90)" font-size="13.3" text-anchor="middle">3</text>
<text transform="translate(401.6,61.75) rotate(-90)" font-size="13.3" text-anchor="middle">2</text>
<text transform="translate(401.6,87.00) rotate(-90)" font-size="13.3" text-anchor="middle">1</text>
<text transform="translate(401.6,112.25) rotate(-90)" font-size="13.3" text-anchor="middle">0</text>
<text transform="translate(401.6,137.50) rotate(-90)" font-size="13.3" text-anchor="middle">−1</text>
<text transform="translate(401.6,188.00) rotate(-90)" font-size="13.3" text-anchor="middle">−3</text>
<text x="549.2" y="245.5" font-size="14.2" text-anchor="middle">Period [s]</text>
<text transform="translate(375.6,112.7) rotate(-90)" font-size="14.2" text-anchor="middle">Spectral acceleration log<tspan font-size="9.7" dy="3">10</tspan><tspan dy="-3"> [cm/s</tspan><tspan font-size="9.7" dy="-5">2</tspan><tspan dy="5">]</tspan></text>
<text x="443.0" y="16.0" font-size="15.4" font-weight="bold">(b)</text>
<text x="468.6" y="16.0" font-size="14.35" font-weight="bold" textLength="189.5" lengthAdjust="spacing">Estimated mean term (GMM)</text>
<rect x="564.5" y="30.5" width="130" height="37.2" fill="#fff" stroke="#000" stroke-width="0.7"/>
<line x1="573.3" y1="43" x2="593.2" y2="43" stroke="#9a9a9a" stroke-width="1.5"/>
<line x1="573.3" y1="55.6" x2="593.2" y2="55.6" stroke="#000" stroke-width="1.5"/>
<text x="602.4" y="47.5" font-size="10.35">Predicted (GMM)</text>
<text x="602.4" y="60.1" font-size="10.35">Observed</text>
</svg>
</body></html>
